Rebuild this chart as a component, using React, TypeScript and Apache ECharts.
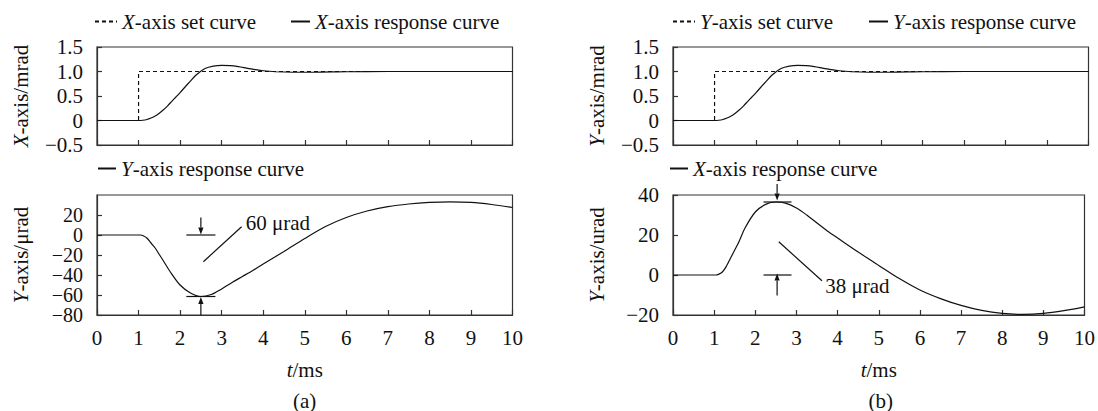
import React, { useEffect, useRef } from "react";
import * as echarts from "echarts";

// ---------- data ----------
// top panels: step set curve and response (mrad)
const setTime = [0, 1, 1, 10];
const setValue = [0, 0, 1, 1];

const respTime = [0, 0.5, 1.0, 1.1, 1.2, 1.3, 1.4, 1.5, 1.6, 1.7, 1.8, 1.9, 2.0, 2.2, 2.4, 2.6, 2.8, 3.0, 3.2, 3.4, 3.6, 3.8, 4.0, 4.3, 4.7, 5.2, 6.0, 7.0, 10];
const xAxisResponseA = [0, 0, 0, 0.005, 0.02, 0.05, 0.09, 0.15, 0.22, 0.3, 0.39, 0.48, 0.57, 0.76, 0.94, 1.06, 1.11, 1.125, 1.12, 1.1, 1.07, 1.04, 1.015, 0.995, 0.985, 0.985, 0.995, 1.0, 1.0];
const yAxisResponseB = [0, 0, 0, 0.005, 0.02, 0.05, 0.09, 0.15, 0.22, 0.3, 0.39, 0.48, 0.57, 0.76, 0.94, 1.06, 1.11, 1.125, 1.12, 1.1, 1.07, 1.04, 1.015, 0.995, 0.985, 0.985, 0.995, 1.0, 1.0];

// bottom panel (a): Y-axis coupling response (µrad)
const crossTimeA = [0, 0.5, 1.0, 1.05, 1.1, 1.2, 1.3, 1.4, 1.5, 1.6, 1.75, 2.0, 2.25, 2.5, 2.75, 3.0, 3.25, 3.5, 3.75, 4.0, 4.5, 5.0, 5.5, 6.0, 6.5, 7.0, 7.5, 8.0, 8.5, 9.0, 9.5, 10];
const yCouplingA = [0, 0, 0, 0, -0.5, -3, -8, -13, -19.5, -26, -36, -50, -58, -61.5, -59.5, -54, -47.5, -41.5, -35.5, -29, -16.5, -3.5, 8.5, 17.5, 24, 28.3, 31, 32.6, 33.2, 32.6, 30.5, 27.5];

// bottom panel (b): X-axis coupling response (µrad)
const crossTimeB = [0, 0.5, 1.0, 1.05, 1.1, 1.2, 1.3, 1.4, 1.5, 1.6, 1.75, 2.0, 2.25, 2.5, 2.75, 3.0, 3.25, 3.5, 3.75, 4.0, 4.5, 5.0, 5.5, 6.0, 6.5, 7.0, 7.5, 8.0, 8.5, 9.0, 9.5, 10];
const xCouplingB = [0, 0, 0, 0, 0.3, 1.5, 4.5, 8.5, 12.5, 16.5, 23.5, 31.5, 35.3, 36.5, 35.8, 33.5, 30, 26, 22, 18.5, 11.5, 4.8, -1.8, -7.5, -11.8, -15.2, -17.7, -19.2, -19.7, -19.2, -17.8, -15.9];

// annotations: [x1, y1, x2, y2, arrowAtEnd]
const annotA = [
  [2.5, 17.5, 2.5, 0.5, 1],
  [2.15, 0, 2.85, 0, 0],
  [2.15, -61.5, 2.85, -61.5, 0],
  [2.5, -80, 2.5, -62, 1],
  [2.56, -26.7, 3.48, 8.3, 0],
];
const annotTextA = [[3.58, 11.7]];
const annotLabelA = ["60 μrad"];

const annotB = [
  [2.53, 45.5, 2.53, 37.2, 1],
  [2.2, 36.5, 2.88, 36.5, 0],
  [2.2, 0, 2.88, 0, 0],
  [2.53, -10.3, 2.53, 0.8, 1],
  [2.57, 16.6, 3.62, -2.9, 0],
];
const annotTextB = [[3.7, -5.3]];
const annotLabelB = ["38 μrad"];

// ---------- styling helpers ----------
const FONT = "Liberation Serif";
const FS = 21;
const TXT = "#111";
const AX = "#333";

const rich = {
  i: { fontStyle: "italic", fontSize: FS, fontFamily: FONT, color: TXT },
  n: { fontSize: FS, fontFamily: FONT, color: TXT },
};

const italicFirst = (s: string) => `{i|${s[0]}}{n|${s.slice(1)}}`;
const minus = (s: string) => s.replace("-", "\u2212");

function zip(a: number[], b: number[]) {
  return a.map((v, i) => [v, b[i]]);
}

function annotationRender(params: any, api: any) {
  const p1 = api.coord([api.value(0), api.value(1)]);
  const p2 = api.coord([api.value(2), api.value(3)]);
  const arrow = api.value(4) === 1;
  const children: any[] = [];
  let end = p2;
  if (arrow) {
    const dx = p2[0] - p1[0];
    const dy = p2[1] - p1[1];
    const len = Math.sqrt(dx * dx + dy * dy) || 1;
    const ux = dx / len;
    const uy = dy / len;
    const hl = 7;
    const hw = 2.6;
    const bx = p2[0] - ux * hl;
    const by = p2[1] - uy * hl;
    end = [bx, by];
    children.push({
      type: "polygon",
      shape: {
        points: [
          [p2[0], p2[1]],
          [bx - uy * hw, by + ux * hw],
          [bx + uy * hw, by - ux * hw],
        ],
      },
      style: { fill: "#111" },
    });
  }
  children.push({
    type: "line",
    shape: { x1: p1[0], y1: p1[1], x2: end[0], y2: end[1] },
    style: { stroke: "#111", lineWidth: 1.2 },
  });
  return { type: "group", children };
}

function makeTextRender(labels: string[]) {
  return (params: any, api: any) => {
    const p = api.coord([api.value(0), api.value(1)]);
    return {
      type: "text",
      x: p[0],
      y: p[1],
      style: {
        text: labels[params.dataIndex],
        fill: TXT,
        fontFamily: FONT,
        fontSize: FS,
        align: "left",
        verticalAlign: "middle",
        textAlign: "left",
        textVerticalAlign: "middle",
      },
    };
  };
}

function xAxisCfg(gridIndex: number, showLabels: boolean) {
  return {
    type: "value",
    gridIndex,
    min: 0,
    max: 10,
    interval: 1,
    axisLine: { show: true, onZero: false, lineStyle: { color: AX, width: 1.2 } },
    axisTick: { show: true, inside: true, length: 5, lineStyle: { color: AX, width: 1.2 } },
    splitLine: { show: false },
    axisLabel: {
      show: showLabels,
      margin: 12,
      showMinLabel: true,
      showMaxLabel: true,
      hideOverlap: false,
      fontFamily: FONT,
      fontSize: FS,
      color: TXT,
    },
    name: showLabels ? "{i|t}{n|/ms}" : "",
    nameLocation: "middle",
    nameGap: 44,
    nameTextStyle: { fontFamily: FONT, fontSize: FS, color: TXT, rich },
  };
}

function yAxisCfg(
  gridIndex: number,
  min: number,
  max: number,
  interval: number,
  name: string,
  decimals: number,
  showMax: boolean,
  labelSize: number
) {
  return {
    type: "value",
    gridIndex,
    min,
    max,
    interval,
    axisLine: { show: true, onZero: false, lineStyle: { color: AX, width: 1.2 } },
    axisTick: { show: true, inside: true, length: 5, lineStyle: { color: AX, width: 1.2 } },
    splitLine: { show: false },
    axisLabel: {
      margin: 14,
      showMinLabel: true,
      showMaxLabel: showMax,
      hideOverlap: false,
      minMargin: 0,
      lineHeight: 12,
      fontFamily: FONT,
      fontSize: labelSize,
      color: TXT,
      formatter: (v: number) =>
        v === 0 ? "0" : minus(decimals > 0 ? v.toFixed(decimals) : String(v)),
    },
    name: italicFirst(name),
    nameLocation: "middle",
    nameRotate: 90,
    nameGap: 66,
    nameTextStyle: { fontFamily: FONT, fontSize: FS, color: TXT, rich },
  };
}

function legendCfg(name: string, left: number, top: number, width: number) {
  return {
    data: [name],
    left,
    top,
    padding: 0,
    itemWidth: width,
    itemHeight: 14,
    itemGap: 0,
    selectedMode: false,
    itemStyle: { color: "transparent", borderColor: "transparent", borderWidth: 0, opacity: 0 },
    formatter: (n: string) => italicFirst(n),
    textStyle: { fontFamily: FONT, fontSize: FS, color: TXT, rich },
  };
}

export default function App() {
  const ref = useRef<HTMLDivElement>(null);

  useEffect(() => {
    if (!ref.current) return;
    const chart = echarts.init(ref.current, undefined, { renderer: "svg" });

    const solid = { color: "#111", width: 1.2, type: "solid" as const };
    const dashed = { color: "#111", width: 1.2, type: [4, 3] as any };

    const option: any = {
      animation: false,
      backgroundColor: "#fff",
      textStyle: { fontFamily: FONT },
      grid: [
        { left: 97, top: 47, width: 415.5, height: 98, show: true, borderColor: AX, borderWidth: 1.2, backgroundColor: "transparent" },
        { left: 97, top: 195, width: 415.5, height: 120, show: true, borderColor: AX, borderWidth: 1.2, backgroundColor: "transparent" },
        { left: 673, top: 47, width: 415.5, height: 98, show: true, borderColor: AX, borderWidth: 1.2, backgroundColor: "transparent" },
        { left: 673, top: 195, width: 415.5, height: 120, show: true, borderColor: AX, borderWidth: 1.2, backgroundColor: "transparent" },
      ],
      xAxis: [xAxisCfg(0, false), xAxisCfg(1, true), xAxisCfg(2, false), xAxisCfg(3, true)],
      yAxis: [
        yAxisCfg(0, -0.5, 1.5, 0.5, "X-axis/mrad", 1, true, FS),
        yAxisCfg(1, -80, 40, 20, "Y-axis/μrad", 0, false, 20),
        yAxisCfg(2, -0.5, 1.5, 0.5, "Y-axis/mrad", 1, true, FS),
        yAxisCfg(3, -20, 40, 20, "Y-axis/urad", 0, true, FS),
      ],
      legend: [
        legendCfg("X-axis set curve", 94, 11, 22),
        legendCfg("X-axis response curve", 290, 11, 19),
        legendCfg("Y-axis response curve", 97, 158, 18),
        legendCfg("Y-axis set curve", 672, 11, 22),
        legendCfg("Y-axis response curve", 868, 11, 19),
        legendCfg("X-axis response curve", 669, 158, 18),
      ],
      title: [
        { text: "(a)", left: 304.7, top: 390, padding: 0, textAlign: "center", textStyle: { fontFamily: FONT, fontSize: FS, fontWeight: "normal", color: TXT } },
        { text: "(b)", left: 880.7, top: 390, padding: 0, textAlign: "center", textStyle: { fontFamily: FONT, fontSize: FS, fontWeight: "normal", color: TXT } },
      ],
      series: [
        { name: "X-axis set curve", type: "line", xAxisIndex: 0, yAxisIndex: 0, data: zip(setTime, setValue), symbol: "none", lineStyle: dashed, itemStyle: { color: "#111" } },
        { name: "X-axis response curve", type: "line", xAxisIndex: 0, yAxisIndex: 0, data: zip(respTime, xAxisResponseA), symbol: "none", smooth: 0.3, lineStyle: solid, itemStyle: { color: "#111" } },
        { name: "Y-axis response curve", type: "line", xAxisIndex: 1, yAxisIndex: 1, data: zip(crossTimeA, yCouplingA), symbol: "none", smooth: 0.3, lineStyle: solid, itemStyle: { color: "#111" } },
        { name: "Y-axis set curve", type: "line", xAxisIndex: 2, yAxisIndex: 2, data: zip(setTime, setValue), symbol: "none", lineStyle: dashed, itemStyle: { color: "#111" } },
        { name: "Y-axis response curve", type: "line", xAxisIndex: 2, yAxisIndex: 2, data: zip(respTime, yAxisResponseB), symbol: "none", smooth: 0.3, lineStyle: solid, itemStyle: { color: "#111" } },
        { name: "X-axis response curve", type: "line", xAxisIndex: 3, yAxisIndex: 3, data: zip(crossTimeB, xCouplingB), symbol: "none", smooth: 0.3, lineStyle: solid, itemStyle: { color: "#111" } },
        { type: "custom", xAxisIndex: 1, yAxisIndex: 1, clip: false, silent: true, data: annotA, encode: { x: [0, 2], y: [1, 3] }, renderItem: annotationRender },
        { type: "custom", xAxisIndex: 1, yAxisIndex: 1, clip: false, silent: true, data: annotTextA, encode: { x: 0, y: 1 }, renderItem: makeTextRender(annotLabelA) },
        { type: "custom", xAxisIndex: 3, yAxisIndex: 3, clip: false, silent: true, data: annotB, encode: { x: [0, 2], y: [1, 3] }, renderItem: annotationRender },
        { type: "custom", xAxisIndex: 3, yAxisIndex: 3, clip: false, silent: true, data: annotTextB, encode: { x: 0, y: 1 }, renderItem: makeTextRender(annotLabelB) },
      ],
    };

    chart.setOption(option);
    return () => chart.dispose();
  }, []);

  return (
    <div
      ref={ref}
      style={{ position: "fixed", left: 0, top: 0, width: 1098, height: 411, background: "#fff" }}
    />
  );
}
